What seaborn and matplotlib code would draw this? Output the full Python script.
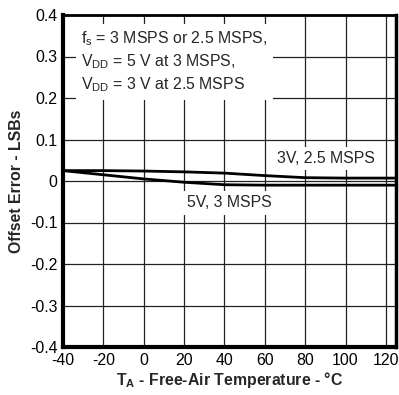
import matplotlib
matplotlib.use("Agg")
import matplotlib.pyplot as plt
import seaborn as sns
import pandas as pd

temps = [-40, -20, 0, 20, 40, 60, 80, 100, 125]
err_3v = [0.025, 0.025, 0.024, 0.022, 0.019, 0.013, 0.008, 0.007, 0.007]
err_5v = [0.025, 0.015, 0.005, -0.003, -0.009, -0.010, -0.010, -0.010, -0.010]
x_ticks = [-40, -20, 0, 20, 40, 60, 80, 100, 120]
x_tick_labels = ["-40", "-20", "0", "20", "40", "60", "80", "100", "120"]
y_ticks = [-0.4, -0.3, -0.2, -0.1, 0, 0.1, 0.2, 0.3, 0.4]
y_tick_labels = ["-0.4", "-0.3", "-0.2", "-0.1", "0", "0.1", "0.2", "0.3", "0.4"]

sns.set_style("white")
plt.rcParams["font.family"] = ["Liberation Sans", "DejaVu Sans"]
plt.rcParams["mathtext.fontset"] = "custom"
plt.rcParams["mathtext.rm"] = "Liberation Sans"
plt.rcParams["mathtext.bf"] = "Liberation Sans:bold"
plt.rcParams["mathtext.default"] = "regular"

df = pd.DataFrame({
    "T": temps * 2,
    "err": err_3v + err_5v,
    "series": ["3V, 2.5 MSPS"] * len(temps) + ["5V, 3 MSPS"] * len(temps),
})

fs = 11.4
fig = plt.figure(figsize=(3.99, 3.95), dpi=100)
ax = fig.add_axes([63 / 399, 1 - 347 / 395, (396 - 63) / 399, (347 - 15) / 395])

sns.lineplot(data=df, x="T", y="err", units="series", estimator=None,
             color="black", linewidth=2.0, ax=ax, legend=False, zorder=3)

ax.set_xlim(-40, 125)
ax.set_ylim(-0.4, 0.4)
ax.set_xticks(x_ticks)
ax.set_xticklabels(x_tick_labels)
ax.set_yticks(y_ticks)
ax.set_yticklabels(y_tick_labels)
ax.tick_params(axis="both", length=0, labelsize=fs, pad=4, colors="black")
ax.grid(True, color="#222222", linewidth=0.9)
ax.set_axisbelow(True)

for side, lw in [("left", 3), ("bottom", 3), ("top", 2), ("right", 2.5)]:
    ax.spines[side].set_visible(True)
    ax.spines[side].set_linewidth(lw)
    ax.spines[side].set_color("black")

ax.set_xlabel(r"$\mathbf{T_A}$ - Free-Air Temperature - °C", fontsize=fs,
              fontweight="bold", labelpad=2)
ax.set_ylabel("Offset Error - LSBs", fontsize=fs, fontweight="bold", labelpad=4)

ax.text(-31, 0.287,
        "f$_s$ = 3 MSPS or 2.5 MSPS,\nV$_{DD}$ = 5 V at 3 MSPS,\nV$_{DD}$ = 3 V at 2.5 MSPS",
        fontsize=fs, va="center", ha="left", linespacing=1.3, zorder=4,
        bbox=dict(facecolor="white", edgecolor="none", pad=4))
ax.text(90.3, 0.055, "3V, 2.5 MSPS", fontsize=fs, ha="center", va="center", zorder=4,
        bbox=dict(facecolor="white", edgecolor="none", pad=3))
ax.text(42.3, -0.053, "5V, 3 MSPS", fontsize=fs, ha="center", va="center", zorder=4,
        bbox=dict(facecolor="white", edgecolor="none", pad=3))

fig.savefig("out.png", dpi=100)
